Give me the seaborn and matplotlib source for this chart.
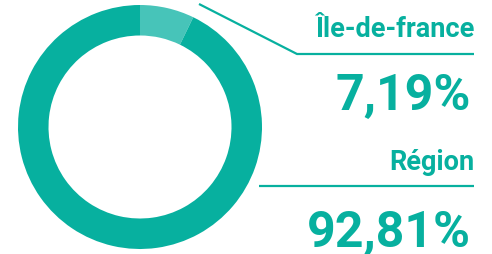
import matplotlib
matplotlib.use("Agg")
import matplotlib.pyplot as plt
import seaborn as sns

labels = ['Île-de-france', 'Région']
shares = [7.19, 92.81]
share_texts = ['7,19%', '92,81%']
colors = ['#47c4b9', '#07b09f']

sns.set_style('white')
plt.rcParams['font.family'] = ['Roboto', 'DejaVu Sans']

W, H = 492, 255
fig = plt.figure(figsize=(W / 100, H / 100), dpi=100)

# donut
ax = fig.add_axes([18 / W, 5 / H, 244 / W, 244 / H])
ax.pie(shares, colors=colors, startangle=90, counterclock=False,
       wedgeprops=dict(width=0.25, linewidth=0))
ax.set_aspect('equal')
ax.set_xlim(-1, 1)
ax.set_ylim(-1, 1)
ax.axis('off')

# overlay in pixel coordinates for leader lines and labels
ov = fig.add_axes([0, 0, 1, 1])
ov.set_xlim(0, W)
ov.set_ylim(H, 0)
ov.axis('off')

green = colors[1]
ov.plot([199, 297, 474], [5, 55, 55], color=green, lw=1.6, solid_capstyle='butt')
ov.plot([259, 474], [187, 187], color=green, lw=1.6, solid_capstyle='butt')

ov.text(474, 37, labels[0], ha='right', va='baseline', fontsize=19.5,
        fontweight='bold', color=green)
ov.text(471, 110, share_texts[0], ha='right', va='baseline', fontsize=36,
        fontweight='bold', color=green)
ov.text(474, 170, labels[1], ha='right', va='baseline', fontsize=19.5,
        fontweight='bold', color=green)
ov.text(471, 247, share_texts[1], ha='right', va='baseline', fontsize=36,
        fontweight='bold', color=green)

fig.savefig('out.png', dpi=100)
